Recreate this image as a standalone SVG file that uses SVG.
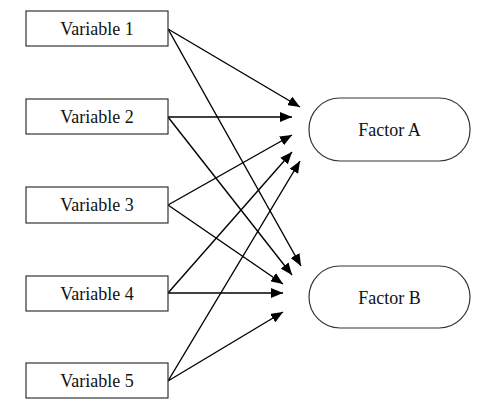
<svg xmlns="http://www.w3.org/2000/svg" width="500" height="404" viewBox="0 0 500 404">
<style>
.box{fill:#fff;stroke:#333;stroke-width:1.2}
.lbl{font-family:"Liberation Serif","Times New Roman",serif;font-size:18px;fill:#111;text-anchor:middle}
.ln{stroke:#000;stroke-width:1.4;fill:none;marker-end:url(#ah)}
</style>
<defs>
<marker id="ah" viewBox="0 0 12 10" refX="12" refY="5" markerWidth="12" markerHeight="10" markerUnits="userSpaceOnUse" orient="auto">
<path d="M0,0 L12,5 L0,10 Z" fill="#000"/>
</marker>
</defs>
<rect width="500" height="404" fill="#fff"/>
<g id="connectors">
<line class="ln" x1="168" y1="29" x2="300" y2="107"/>
<line class="ln" x1="168" y1="29" x2="301" y2="266"/>
<line class="ln" x1="168" y1="117" x2="292" y2="117"/>
<line class="ln" x1="168" y1="117" x2="292" y2="275"/>
<line class="ln" x1="168" y1="205" x2="292" y2="135"/>
<line class="ln" x1="168" y1="205" x2="283" y2="284"/>
<line class="ln" x1="168" y1="293" x2="292" y2="152"/>
<line class="ln" x1="168" y1="293" x2="283" y2="293"/>
<line class="ln" x1="168" y1="381" x2="300" y2="161"/>
<line class="ln" x1="168" y1="381" x2="283" y2="312"/>
</g>
<g id="var1"><rect class="box" x="26" y="11" width="142" height="35"/><text class="lbl" x="97" y="35">Variable 1</text></g>
<g id="var2"><rect class="box" x="26" y="99" width="142" height="35"/><text class="lbl" x="97" y="123">Variable 2</text></g>
<g id="var3"><rect class="box" x="26" y="187" width="142" height="36"/><text class="lbl" x="97" y="211">Variable 3</text></g>
<g id="var4"><rect class="box" x="26" y="276" width="142" height="35"/><text class="lbl" x="97" y="300">Variable 4</text></g>
<g id="var5"><rect class="box" x="26" y="363" width="142" height="35"/><text class="lbl" x="97" y="387">Variable 5</text></g>
<g id="factorA"><rect class="box" x="309" y="98" width="161" height="63" rx="31" ry="31"/><text class="lbl" x="389.5" y="136">Factor A</text></g>
<g id="factorB"><rect class="box" x="309" y="266" width="161" height="62" rx="31" ry="31"/><text class="lbl" x="389.5" y="304">Factor B</text></g>
</svg>
